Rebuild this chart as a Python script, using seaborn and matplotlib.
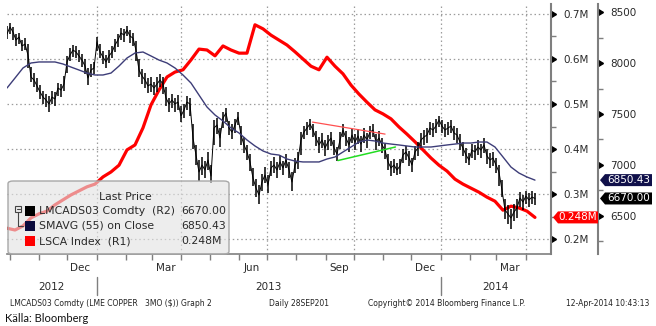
import pandas as pd
import matplotlib
matplotlib.use("Agg")
import matplotlib.pyplot as plt
import matplotlib.dates as mdates
import matplotlib.markers as mmarkers
from matplotlib.ticker import MultipleLocator, FuncFormatter, NullFormatter
from matplotlib.patches import FancyBboxPatch, Rectangle, Polygon
from matplotlib.lines import Line2D
import seaborn as sns

sns.set_theme(style="white")
plt.rcParams["font.family"] = ["DejaVu Sans"]

# LME copper 3M (LMCADS03 Comdty), USD/t, bars sampled evenly over the period
copper_close = [
    8287, 8356, 8306, 8228, 8257, 8169, 8188, 8080, 7864, 7835,
    7776, 7717, 7667, 7638, 7599, 7667, 7648, 7756, 7736, 7795,
    8012, 8080, 8129, 8110, 8071, 8031, 7972, 7854, 7933, 7953,
    8208, 8110, 8061, 8012, 8071, 8110, 8179, 8228, 8297, 8277,
    8326, 8267, 8247, 8129, 7933, 7874, 7835, 7776, 7795, 7756,
    7795, 7835, 7795, 7658, 7599, 7638, 7599, 7618, 7481, 7540,
    7618, 7599, 7264, 7097, 6930, 6999, 6950, 7048, 6891, 7363,
    7392, 7264, 7461, 7510, 7363, 7323, 7392, 7471, 7294, 7196,
    7127, 7029, 6871, 6773, 6704, 6832, 6901, 6802, 6970, 6999,
    6950, 7029, 6970, 7048, 6950, 6832, 6999, 7048, 7245, 7323,
    7363, 7402, 7343, 7264, 7196, 7245, 7166, 7225, 7264, 7166,
    7107, 7245, 7343, 7264, 7196, 7294, 7225, 7284, 7205, 7294,
    7245, 7323, 7343, 7225, 7264, 7196, 7146, 7029, 6970, 6999,
    6950, 6989, 7097, 7127, 7068, 6999, 7127, 7166, 7245, 7274,
    7294, 7363, 7343, 7382, 7441, 7382, 7343, 7363, 7382, 7314,
    7294, 7225, 7166, 7097, 7048, 7146, 7127, 7176, 7146, 7196,
    7088, 7048, 7068, 6999, 6930, 6753, 6557, 6517, 6478, 6537,
    6576, 6675, 6635, 6694, 6655, 6684, 6670.00,
]
copper_high = [
    8370, 8400, 8360, 8290, 8300, 8230, 8250, 8190, 7960, 7900,
    7850, 7790, 7730, 7700, 7680, 7730, 7720, 7810, 7800, 7870,
    8070, 8150, 8180, 8170, 8130, 8090, 8040, 7950, 7990, 8010,
    8260, 8190, 8120, 8080, 8130, 8170, 8240, 8290, 8350, 8340,
    8370, 8330, 8300, 8220, 8040, 7940, 7900, 7850, 7860, 7820,
    7860, 7890, 7860, 7770, 7660, 7700, 7660, 7690, 7580, 7600,
    7680, 7660, 7400, 7200, 7050, 7080, 7040, 7130, 7000, 7440,
    7460, 7360, 7520, 7560, 7430, 7400, 7450, 7520, 7380, 7270,
    7200, 7110, 6970, 6860, 6800, 6910, 6980, 6900, 7040, 7080,
    7030, 7100, 7040, 7110, 7030, 6930, 7070, 7130, 7320, 7380,
    7420, 7450, 7400, 7330, 7270, 7310, 7240, 7290, 7320, 7240,
    7180, 7320, 7400, 7330, 7270, 7350, 7300, 7350, 7280, 7360,
    7310, 7380, 7400, 7300, 7330, 7260, 7210, 7110, 7040, 7060,
    7020, 7060, 7160, 7190, 7140, 7070, 7190, 7230, 7310, 7340,
    7360, 7420, 7410, 7450, 7480, 7440, 7400, 7420, 7440, 7380,
    7360, 7300, 7230, 7170, 7120, 7210, 7200, 7240, 7210, 7260,
    7160, 7120, 7130, 7070, 7000, 6850, 6660, 6610, 6570, 6620,
    6660, 6730, 6700, 6740, 6720, 6740, 6720,
]
copper_low = [
    8240, 8290, 8230, 8170, 8190, 8120, 8130, 7950, 7820, 7770,
    7720, 7650, 7600, 7570, 7520, 7600, 7580, 7680, 7670, 7730,
    7900, 8020, 8060, 8050, 8010, 7960, 7890, 7790, 7860, 7890,
    8120, 8050, 7990, 7950, 8000, 8050, 8110, 8160, 8230, 8210,
    8270, 8200, 8170, 8020, 7860, 7800, 7760, 7710, 7720, 7690,
    7720, 7770, 7700, 7580, 7520, 7560, 7520, 7540, 7420, 7460,
    7540, 7480, 7160, 7000, 6840, 6900, 6870, 6950, 6820, 7200,
    7300, 7180, 7360, 7420, 7290, 7250, 7310, 7390, 7200, 7120,
    7050, 6940, 6790, 6680, 6620, 6740, 6820, 6720, 6890, 6920,
    6870, 6950, 6900, 6970, 6870, 6740, 6920, 6960, 7100, 7250,
    7290, 7340, 7270, 7190, 7120, 7170, 7090, 7150, 7190, 7100,
    7040, 7160, 7270, 7190, 7130, 7220, 7150, 7210, 7130, 7220,
    7170, 7250, 7270, 7150, 7190, 7120, 7060, 6950, 6890, 6920,
    6900, 6910, 7020, 7050, 6990, 6930, 7050, 7090, 7170, 7200,
    7220, 7290, 7270, 7310, 7370, 7310, 7270, 7290, 7310, 7240,
    7220, 7150, 7090, 7020, 7000, 7070, 7050, 7100, 7070, 7120,
    7010, 6970, 6990, 6920, 6790, 6680, 6470, 6420, 6370, 6450,
    6480, 6590, 6560, 6620, 6590, 6620, 6610,
]

# 55-day simple moving average of the close, USD/t
copper_sma55 = [
    7756, 7854, 7953, 8002, 8012, 8012, 8012, 7992, 7962, 7933,
    7903, 7884, 7884, 7903, 7972, 8051, 8100, 8110, 8071, 8031,
    8002, 7953, 7884, 7805, 7687, 7569, 7491, 7432, 7363, 7314,
    7245, 7186, 7137, 7107, 7097, 7058, 7038, 7029, 7029, 7029,
    7058, 7078, 7127, 7176, 7225, 7245, 7235, 7215, 7205, 7196,
    7186, 7176, 7176, 7176, 7186, 7196, 7205, 7215, 7215, 7225,
    7225, 7176, 7078, 6979, 6920, 6881, 6850.43,
]

# LME copper stocks (LSCA Index), million tonnes
lme_stocks = [
    0.224, 0.220, 0.229, 0.247, 0.256, 0.262, 0.276, 0.287, 0.298, 0.307,
    0.316, 0.322, 0.338, 0.349, 0.364, 0.398, 0.409, 0.447, 0.498, 0.531,
    0.560, 0.571, 0.576, 0.598, 0.622, 0.620, 0.607, 0.629, 0.620, 0.613,
    0.613, 0.676, 0.667, 0.653, 0.642, 0.631, 0.616, 0.600, 0.584, 0.576,
    0.604, 0.584, 0.567, 0.542, 0.522, 0.504, 0.487, 0.478, 0.467, 0.449,
    0.433, 0.416, 0.398, 0.380, 0.364, 0.351, 0.333, 0.322, 0.313, 0.304,
    0.293, 0.284, 0.264, 0.273, 0.269, 0.262, 0.248,
]

# hand-drawn trend lines on the price scale
resistance_dates = ["2013-08-18", "2013-11-03"]
resistance_px = [7421, 7303]
support_dates = ["2013-09-14", "2013-11-14"]
support_px = [7043, 7176]

start_date, end_date = "2012-09-28", "2014-04-11"
month_labels_fmt = "%b"
year_labels = ["2012", "2013", "2014"]
legend_names = ["LMCADS03 Comdty  (R2)", "SMAVG (55) on Close", "LSCA Index  (R1)"]
legend_colors = ["#000000", "#0b0b3d", "#ff0000"]

price_dates = pd.date_range(start_date, end_date, periods=len(copper_close))
sma_dates = pd.date_range(start_date, end_date, periods=len(copper_sma55))
stock_dates = pd.date_range(start_date, end_date, periods=len(lme_stocks))

last_price = copper_close[-1]
last_sma = copper_sma55[-1]
last_stock = lme_stocks[-1]
legend_values = [f"{last_price:.2f}", f"{last_sma:.2f}", f"{last_stock:.3f}M"]

W, H = 656, 326
def fx(x):
    return x / W
def fy(y):
    return 1 - y / H

fig = plt.figure(figsize=(W / 100, H / 100), dpi=100)
fig.patch.set_facecolor("white")
ax = fig.add_axes([fx(7), fy(254), (551 - 7) / W, (254 - 4) / H])
ax2 = ax.twinx()
ax.set_zorder(1)
ax2.set_zorder(2)
ax.patch.set_facecolor("white")

SPINE = "#7f7f7f"
GRID = "#9c9c9c"
TXT = "#2a2a2a"

# stocks (R1) underneath, price bars and moving average (R2) on top
sns.lineplot(x=stock_dates, y=lme_stocks, ax=ax, color="#ff0000", linewidth=2.3)
ax2.vlines(price_dates, copper_low, copper_high, color="black", linewidth=1.1)
sns.lineplot(x=price_dates, y=copper_close, ax=ax2, color="black", linewidth=0.7)
sns.lineplot(x=sma_dates, y=copper_sma55, ax=ax2, color="#3d3d78", linewidth=1.0)
sns.lineplot(x=pd.to_datetime(resistance_dates), y=resistance_px, ax=ax2,
             color="#ff5050", linewidth=0.9)
sns.lineplot(x=pd.to_datetime(support_dates), y=support_px, ax=ax2,
             color="#22dd22", linewidth=1.1)

for a in (ax, ax2):
    a.set_xlabel("")
    a.set_ylabel("")

xmin, xmax = pd.Timestamp("2012-09-28"), pd.Timestamp("2014-04-28")
R1_LIM = (0.1667, 0.7222)
R2_LIM = (6124, 8582)

# spines
for s in ("left", "top"):
    ax.spines[s].set_visible(False)
ax.spines["right"].set_color(SPINE)
ax.spines["right"].set_linewidth(1.5)
ax.spines["bottom"].set_color(SPINE)
ax.spines["bottom"].set_linewidth(1.2)
for s in ("left", "top", "bottom"):
    ax2.spines[s].set_visible(False)
r2_pos = (598 - 7) / (551 - 7)
ax2.spines["right"].set_position(("axes", r2_pos))
ax2.spines["right"].set_color(SPINE)
ax2.spines["right"].set_linewidth(1.5)

# R1 axis (stocks)
ax.yaxis.tick_right()
ax.yaxis.set_major_locator(MultipleLocator(0.1))
ax.yaxis.set_minor_locator(MultipleLocator(0.05))
ax.yaxis.set_major_formatter(FuncFormatter(lambda v, p: f"{v:.1f}M"))
ax.tick_params(axis="y", which="major", left=False, right=True, labelleft=False,
               labelright=True, length=0, pad=9, labelsize=7.5, labelcolor=TXT)
ax.tick_params(axis="y", which="minor", left=False, right=True, length=3.5,
               width=1.0, color=SPINE)

# R2 axis (price)
ax2.yaxis.set_major_locator(MultipleLocator(500))
ax2.yaxis.set_minor_locator(MultipleLocator(250))
ax2.yaxis.set_major_formatter(FuncFormatter(lambda v, p: f"{v:.0f}"))
ax2.tick_params(axis="y", which="major", length=0, pad=9, labelsize=7.5,
                labelcolor=TXT)
ax2.tick_params(axis="y", which="minor", length=3.5, width=1.0, color=SPINE)

ax.set_ylim(*R1_LIM)
ax2.set_ylim(*R2_LIM)

# arrow-head markers at the major ticks
for v in ax.get_yticks():
    if R1_LIM[0] <= v <= R1_LIM[1]:
        ax.plot([1.0], [v], marker=mmarkers.CARETRIGHTBASE, ms=5, color="black",
                transform=ax.get_yaxis_transform(), clip_on=False)
for v in ax2.get_yticks():
    if R2_LIM[0] <= v <= R2_LIM[1]:
        ax2.plot([r2_pos], [v], marker=mmarkers.CARETRIGHTBASE, ms=5, color="black",
                 transform=ax2.get_yaxis_transform(), clip_on=False)
ax.set_ylim(*R1_LIM)
ax2.set_ylim(*R2_LIM)
ax.set_xlim(xmin, xmax)

# date axis
ax.xaxis.set_major_locator(mdates.MonthLocator())
ax.xaxis.set_major_formatter(NullFormatter())
ax.xaxis.set_minor_locator(mdates.MonthLocator(bymonth=(3, 6, 9, 12), bymonthday=15))
ax.xaxis.set_minor_formatter(mdates.DateFormatter(month_labels_fmt))
ax.tick_params(axis="x", which="major", bottom=True, length=4, width=1.0,
               color=SPINE, direction="out")
ax.tick_params(axis="x", which="minor", bottom=True, length=0, pad=6.5,
               labelsize=7.5, labelcolor=TXT)

# grid
ax.yaxis.grid(True, which="major", linestyle=(0, (1.2, 2.2)), color=GRID, lw=0.9)
for d in pd.date_range("2013-01-01", "2014-04-01", freq="QS"):
    ax.axvline(d, linestyle=(0, (1.2, 2.2)), color=GRID, lw=0.9, zorder=0)
ax.set_axisbelow(True)

# year labels and separators
year_bounds = [xmin, pd.Timestamp("2013-01-01"), pd.Timestamp("2014-01-01"), xmax]
xt = ax.get_xaxis_transform()
for i, lab in enumerate(year_labels):
    mid = year_bounds[i] + (year_bounds[i + 1] - year_bounds[i]) / 2
    ax.text(mid, -0.132, lab, transform=xt, ha="center", va="center",
            fontsize=7.5, color=TXT)
for d in year_bounds[1:3]:
    ax.plot([d, d], [-0.092, -0.162], transform=xt, color=SPINE, lw=1.0,
            clip_on=False)

# legend panel
fig.add_artist(FancyBboxPatch((fx(8), fy(254)), (229 - 8) / W, (254 - 181) / H,
                              boxstyle="round,pad=0,rounding_size=0.008",
                              transform=fig.transFigure,
                              facecolor=(0.89, 0.89, 0.89, 0.62),
                              edgecolor="#a8a8a8", lw=1.0, zorder=5))
fig.text(fx(125), fy(197), "Last Price", ha="center", va="center",
         fontsize=7.8, color=TXT, zorder=6)
for i, (name, col, val) in enumerate(zip(legend_names, legend_colors, legend_values)):
    yc = 211 + 15 * i
    fig.add_artist(Rectangle((fx(25), fy(yc + 5)), 10 / W, 10 / H,
                             transform=fig.transFigure, facecolor=col,
                             edgecolor="none", zorder=6))
    fig.text(fx(39), fy(yc), name, ha="left", va="center", fontsize=7.8,
             color=TXT, zorder=6)
    fig.text(fx(181), fy(yc), val, ha="left", va="center", fontsize=7.8,
             color=TXT, zorder=6)
# group marker
fig.add_artist(Rectangle((fx(15), fy(212)), 6 / W, 6 / H, transform=fig.transFigure,
                         facecolor="none", edgecolor="#444444", lw=0.8, zorder=6))
fig.add_artist(Line2D([fx(16.5), fx(19.5)], [fy(209), fy(209)],
                      transform=fig.transFigure, color="#444444", lw=0.8, zorder=6))
fig.add_artist(Line2D([fx(18), fx(18), fx(23)], [fy(212), fy(226), fy(226)],
                      transform=fig.transFigure, color="#444444", lw=0.8, zorder=6))

# last-value tags on the value axes
def tag(axis, value, text, x_tip, x_right, color):
    yd = axis.get_yaxis_transform().transform((0, value))[1]
    yc = H - yd
    pts = [(fx(x_tip), fy(yc)), (fx(x_tip + 5), fy(yc - 6)), (fx(x_right), fy(yc - 6)),
           (fx(x_right), fy(yc + 6)), (fx(x_tip + 5), fy(yc + 6))]
    fig.add_artist(Polygon(pts, closed=True, transform=fig.transFigure,
                           facecolor=color, edgecolor="none", zorder=6))
    fig.text(fx((x_tip + 5 + x_right) / 2), fy(yc), text, ha="center", va="center",
             fontsize=7.5, color="white", zorder=7)

tag(ax2, last_sma, f"{last_sma:.2f}", 600, 652, "#10104a")
tag(ax2, last_price, f"{last_price:.2f}", 600, 652, "#000000")
tag(ax, last_stock, f"{last_stock:.3f}M", 553, 598, "#ff0000")

# footer line
foot = dict(fontsize=5.5, color="#222222", va="center")
fig.text(fx(10), fy(304), "LMCADS03 Comdty (LME COPPER", **foot)
fig.text(fx(145), fy(304), "3MO ($)) Graph 2", **foot)
fig.text(fx(269), fy(304), "Daily 28SEP201", **foot)
fig.text(fx(368), fy(304), "Copyright\u00a9 2014 Bloomberg Finance L.P.", **foot)
fig.text(fx(566), fy(304), "12-Apr-2014 10:43:13", **foot)
fig.text(fx(5), fy(318), "K\u00e4lla: Bloomberg", fontsize=8, color="#111111",
         va="center", family=["Lato", "DejaVu Sans"])

fig.savefig("out.png", dpi=100, facecolor="white")
